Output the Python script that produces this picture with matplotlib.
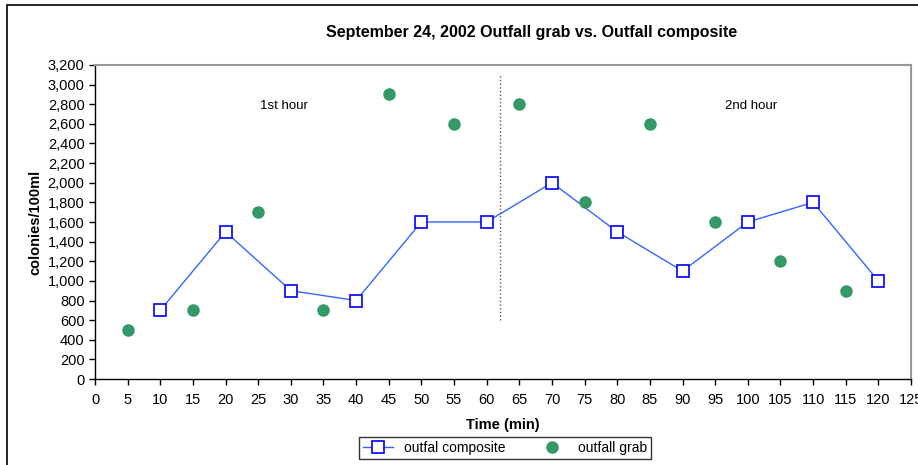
import matplotlib.pyplot as plt
from matplotlib.patches import Rectangle

plt.rcParams['font.family'] = ['Liberation Sans', 'DejaVu Sans']

composite_time = [10, 20, 30, 40, 50, 60, 70, 80, 90, 100, 110, 120]
composite_vals = [700, 1500, 900, 800, 1600, 1600, 2000, 1500, 1100, 1600, 1800, 1000]
grab_time = [5, 15, 25, 35, 45, 55, 65, 75, 85, 95, 105, 115]
grab_vals = [500, 700, 1700, 700, 2900, 2600, 2800, 1800, 2600, 1600, 1200, 900]

fig = plt.figure(figsize=(9.18, 4.65), dpi=100)
ax = fig.add_axes([95 / 918, 1 - 379 / 465, 816 / 918, 314 / 465])

# outer frame (only left/top visible in the reference)
fig.patches.append(Rectangle((7 / 918, -0.1), 1.2, 1 - 5 / 465 + 0.1,
                             transform=fig.transFigure, fill=False,
                             edgecolor='black', linewidth=1.2))

ax.plot(composite_time, composite_vals, color='#3366FF', linewidth=1,
        marker='s', markersize=9, markerfacecolor='white',
        markeredgecolor='#0000FF', markeredgewidth=1.2,
        label='outfal composite', zorder=3)
ax.plot(grab_time, grab_vals, linestyle='none', marker='o', markersize=8,
        color='#339966', label='outfall grab', zorder=3)

# split between the two hours
ax.plot([62, 62], [600, 3100], color='#555555', linestyle=':', linewidth=1)
ax.text(29, 2780, '1st hour', ha='center', va='center', fontsize=9.5)
ax.text(100.5, 2780, '2nd hour', ha='center', va='center', fontsize=9.5)

ax.set_xlim(0, 125)
ax.set_ylim(0, 3200)
ax.set_xticks(range(0, 126, 5))
ax.set_yticks(range(0, 3201, 200))
ax.set_yticklabels([f'{v:,}' for v in range(0, 3201, 200)])
ax.tick_params(labelsize=10.5, length=4, direction='out', width=1)
ax.tick_params(axis='x', pad=6)

for side in ['top', 'right']:
    ax.spines[side].set_color('#999999')
    ax.spines[side].set_linewidth(1.5)
for side in ['left', 'bottom']:
    ax.spines[side].set_linewidth(1)

ax.set_xlabel('Time (min)', fontsize=10.5, fontweight='bold', labelpad=8)
ax.set_ylabel('colonies/100ml', fontsize=10.5, fontweight='bold', labelpad=4)
fig.text(532 / 918, 1 - 33 / 465,
         'September 24, 2002 Outfall grab vs. Outfall composite',
         fontsize=11.5, fontweight='bold', ha='center', va='center')

leg = fig.legend(loc='center', bbox_to_anchor=(505 / 918, 1 - 448 / 465),
                 ncol=2, fontsize=10, frameon=True, fancybox=False,
                 edgecolor='black', borderpad=0.3, columnspacing=2.2,
                 handlelength=2.2)
leg.get_frame().set_linewidth(1)

fig.savefig('out.png', dpi=100)
